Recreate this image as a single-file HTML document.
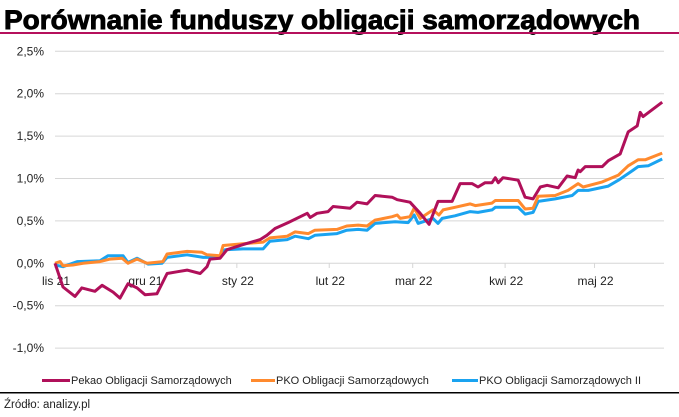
<!DOCTYPE html>
<html><head><meta charset="utf-8"><style>
body{margin:0;background:#fff;width:679px;height:412px;overflow:hidden;font-family:"Liberation Sans",sans-serif;}
</style></head><body>
<svg width="679" height="412" viewBox="0 0 679 412" xmlns="http://www.w3.org/2000/svg">
<text x="4" y="29" font-size="27" font-weight="bold" fill="#000" stroke="#000" stroke-width="0.9" textLength="636" lengthAdjust="spacingAndGlyphs">Porównanie funduszy obligacji samorządowych</text>
<rect x="0" y="32" width="679" height="2" fill="#b5105c"/>
<g id="grid"></g>
<g id="yticks"></g>
<g id="xticks"></g>
<g id="series"></g>
<g font-size="11" fill="#222">
<g><rect x="42" y="379" width="28" height="3" fill="#b0105a"/><text x="71" y="384">Pekao Obligacji Samorządowych</text></g>
<g><rect x="251" y="379" width="24" height="3" fill="#ff8a2e"/><text x="276" y="384">PKO Obligacji Samorządowych</text></g>
<g><rect x="452" y="379" width="26" height="3" fill="#1aa3f0"/><text x="479" y="384">PKO Obligacji Samorządowych II</text></g>
</g>
<rect x="0" y="392" width="679" height="1.5" fill="#000"/>
<text x="4" y="408" font-size="11.5" fill="#222">Źródło: analizy.pl</text>
</svg>
<script>
const yTicks=[2.5,2.0,1.5,1.0,0.5,0.0,-0.5,-1.0];
const yTickLabels=["2,5%","2,0%","1,5%","1,0%","0,5%","0,0%","-0,5%","-1,0%"];
const monthDays=[0,30,61,92,120,151,181];
const monthLabels=["lis 21","gru 21","sty 22","lut 22","mar 22","kwi 22","maj 22"];
const pekaoDays=[0,2.7,6.7,9,13.4,15.8,19.5,21.8,24.5,27.5,30.2,34.2,37.6,40.9,44.3,48.7,51,52,55.4,57.7,63.1,68.8,71.1,73.8,78.2,84.6,85.6,87.9,91.6,93.3,99,101.3,104.7,107.4,113.1,114.8,119.1,122.5,125.5,128.5,133.2,135.9,139.9,141.9,144.3,146.6,147.7,148.7,150.3,155.4,157.7,160.4,162.8,165.1,168.8,171.8,174.5,175.5,176.2,177.9,183.6,185.6,189.6,192.3,195.3,196.3,197.3,203.7];
const pekaoVals=[0,-0.28,-0.39,-0.29,-0.33,-0.26,-0.34,-0.41,-0.24,-0.29,-0.37,-0.36,-0.12,-0.10,-0.08,-0.12,-0.04,0.05,0.06,0.16,0.22,0.28,0.33,0.41,0.48,0.59,0.54,0.59,0.61,0.67,0.65,0.72,0.70,0.80,0.78,0.75,0.72,0.59,0.46,0.73,0.73,0.94,0.94,0.90,0.95,0.95,1.01,0.95,1.01,0.98,0.78,0.76,0.90,0.92,0.89,1.03,1.01,1.10,1.08,1.14,1.14,1.21,1.29,1.55,1.62,1.78,1.73,1.90];
const pkoDays=[0,1.7,2.7,6,9.4,15.1,18.5,22.5,24.5,27.5,30.9,36.2,37.6,44.3,49.3,51,55.4,56.4,63.1,69.8,72.1,77.9,80.5,85,87.2,94.6,97.9,101.7,104.7,107.4,113.1,114.8,115.8,119.1,120.5,122.5,126.8,128.8,130.2,134.2,139.3,141,146.6,147.7,155.4,157.7,160.4,162.1,167.8,172.1,175.5,177.2,183.6,189,192.3,195.6,198,203.7];
const pkoVals=[0,0.02,-0.03,-0.02,0,0.02,0.05,0.06,0,0.05,0,0.02,0.11,0.14,0.13,0.10,0.09,0.21,0.23,0.25,0.30,0.32,0.37,0.35,0.39,0.40,0.44,0.45,0.44,0.51,0.55,0.57,0.53,0.55,0.65,0.53,0.63,0.57,0.63,0.66,0.70,0.68,0.71,0.74,0.74,0.64,0.65,0.79,0.80,0.86,0.94,0.90,0.96,1.04,1.15,1.22,1.22,1.30];
const pko2Days=[0,2.7,7.4,15.1,17.8,22.8,24.5,27.5,31.2,35.9,37.6,44.3,49.7,55.4,57.0,63.1,69.8,72.1,77.9,80.5,85,87.2,94.6,97.9,101.7,104.7,107.4,114.1,118.5,120.5,121.8,126.8,128.5,129.9,134.2,139.3,141.9,146.6,147.7,155.4,157.7,160.4,162.1,167.8,173.5,175.5,178.9,185.6,189,193.6,195.6,199,203.7];
const pko2Vals=[-0.02,-0.04,0.02,0.03,0.09,0.09,0.01,0.06,-0.01,0,0.07,0.10,0.07,0.07,0.16,0.17,0.17,0.26,0.28,0.32,0.29,0.33,0.35,0.39,0.40,0.39,0.47,0.49,0.48,0.57,0.47,0.53,0.47,0.53,0.56,0.61,0.60,0.63,0.66,0.66,0.58,0.60,0.73,0.76,0.80,0.86,0.86,0.91,0.98,1.09,1.14,1.15,1.23];
const NS="http://www.w3.org/2000/svg";
const X0=55,X1=664,DAYS=204.3;
function xScale(d){return X0+d*(X1-X0)/DAYS;}
function yScale(v){return 263.3-v*84.8;}
function mk(tag,attrs,parent){const e=document.createElementNS(NS,tag);for(const k in attrs)e.setAttribute(k,attrs[k]);parent.appendChild(e);return e;}
const grid=document.getElementById('grid'),yt=document.getElementById('yticks'),xt=document.getElementById('xticks'),ser=document.getElementById('series');
yTicks.forEach((v,i)=>{
 const l=mk('line',{x1:X0,x2:X1,y1:yScale(v),y2:yScale(v),stroke:'#d6d6d6','stroke-width':1},grid);
 
 
 const t=mk('text',{x:44,y:yScale(v)+4,'text-anchor':'end','font-size':12,fill:'#222'},yt);
 t.textContent=yTickLabels[i];
 
 
});
monthDays.forEach((d,i)=>{
 const tk=mk('line',{x1:xScale(d),x2:xScale(d),y1:263,y2:268,stroke:'#d6d6d6','stroke-width':1},xt);
 
 
 const t=mk('text',{x:xScale(d)+1,y:285,'text-anchor':'middle','font-size':12,fill:'#222'},xt);
 t.textContent=monthLabels[i];
 
 
});
function line(days,vals,color,name){
 const pts=days.map((d,i)=>xScale(d).toFixed(1)+','+yScale(vals[i]).toFixed(1)).join(' ');
 const p=mk('polyline',{points:pts,fill:'none',stroke:color,'stroke-width':3,'stroke-linejoin':'round'},ser);
 
 
}
line(pko2Days,pko2Vals,'#1aa3f0','line-pko-ii');
line(pkoDays,pkoVals,'#ff8a2e','line-pko');
line(pekaoDays,pekaoVals,'#b0105a','line-pekao');
</script>
</body></html>
